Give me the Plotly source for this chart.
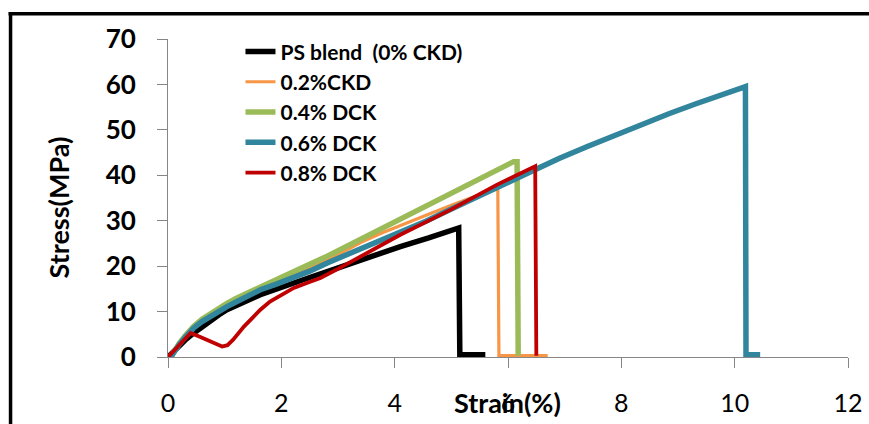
import plotly.graph_objects as go

# ---- data ----
ps_x = [0, 0.1, 0.2, 0.3, 0.455, 0.6, 0.75, 0.9, 1.04, 1.2, 1.35, 1.5, 1.63, 1.8, 2.0, 2.22, 2.5,
        2.81, 3.1, 3.4, 3.75, 4.1, 4.6, 5.13, 5.15, 5.6]
ps_y = [0, 1.3, 2.5, 3.7, 5.3, 6.7, 8.0, 9.3, 10.4, 11.4, 12.2, 13.0, 13.7, 14.5, 15.3, 16.3, 17.5,
        18.8, 20.1, 21.4, 22.9, 24.3, 26.2, 28.4, 0.5, 0.5]

c02_x = [0, 0.1, 0.2, 0.3, 0.455, 0.6, 0.75, 0.9, 1.04, 1.2, 1.35, 1.5, 1.63, 1.9, 2.22, 2.5,
         2.81, 3.1, 3.4, 3.75, 4.1, 4.6, 5.0, 5.4, 5.8, 5.82, 5.84, 6.7]
c02_y = [0, 1.5, 2.9, 4.3, 6.6, 8.0, 9.3, 10.4, 11.4, 12.5, 13.4, 14.3, 15.0, 16.4, 17.9, 19.5,
         21.3, 23.2, 25.2, 27.2, 29.0, 31.4, 33.4, 35.3, 37.0, 37.0, 0.3, 0.3]

c04_x = [0.05, 0.12, 0.2, 0.3, 0.455, 0.6, 0.75, 0.9, 1.04, 1.2, 1.35, 1.5, 1.63, 1.9, 2.22, 2.5,
         2.81, 3.1, 3.4, 3.75, 4.1, 4.55, 5.0, 5.5, 6.1, 6.16, 6.18]
c04_y = [0, 1.6, 3.0, 4.6, 6.8, 8.3, 9.6, 10.8, 11.8, 12.9, 13.8, 14.7, 15.4, 17.0, 18.8, 20.4,
         22.2, 24.0, 25.9, 28.2, 30.5, 33.2, 35.9, 39.2, 43.0, 43.0, 0.3]

c06_x = [0.05, 0.12, 0.2, 0.3, 0.455, 0.6, 0.75, 0.9, 1.04, 1.2, 1.35, 1.5, 1.63, 1.9, 2.22, 2.5,
         2.81, 3.1, 3.4, 3.75, 4.1, 4.55, 5.0, 5.7, 6.45, 6.9, 7.39, 7.9, 8.39, 8.85, 9.33, 9.8,
         10.19, 10.2, 10.45]
c06_y = [0, 1.5, 2.8, 4.3, 6.4, 7.8, 9.0, 10.1, 11.1, 12.1, 13.0, 13.9, 14.8, 16.0, 17.4, 18.9,
         20.7, 22.2, 23.8, 25.5, 27.3, 29.9, 32.6, 36.8, 41.2, 43.7, 46.3, 48.9, 51.4, 53.6, 55.8, 57.8,
         59.5, 0.5, 0.5]

c08_x = [0, 0.2, 0.4, 0.55, 0.7, 0.85, 0.955, 1.05, 1.15, 1.34, 1.5, 1.63, 1.8, 2.0, 2.22, 2.45,
         2.69, 3.0, 3.4, 3.75, 4.1, 4.55, 5.0, 5.8, 6.45, 6.48, 6.5]
c08_y = [0, 2.8, 5.3, 4.5, 3.6, 2.7, 2.3, 2.6, 3.8, 6.7, 8.9, 10.4, 12.2, 13.6, 15.2, 16.3,
         17.4, 19.4, 22.1, 24.5, 26.9, 29.7, 32.5, 37.9, 42.0, 42.0, 0.3]

names = ["PS blend  (0% CKD)", "0.2%CKD", "0.4% DCK", "0.6% DCK", "0.8% DCK"]
colors = ["#000000", "#F79646", "#9BBB59", "#31859C", "#C00000"]
widths = [5.5, 3.2, 5.5, 5.5, 3.8]

x_ticks = [0, 2, 4, 6, 8, 10, 12]
y_ticks = [0, 10, 20, 30, 40, 50, 60, 70]

FONT = "Lato"

fig = go.Figure()
for xs, ys, nm, col, w in zip([ps_x, c02_x, c04_x, c06_x, c08_x],
                              [ps_y, c02_y, c04_y, c06_y, c08_y],
                              names, colors, widths):
    fig.add_trace(go.Scatter(x=xs, y=ys, mode="lines", name=nm,
                             line=dict(color=col, width=w, shape="linear"),
                             cliponaxis=False))

# pixel helpers for paper coordinates
L, R, T, B = 167.5, 847.7, 38.7, 357.3
def px(x):
    return (x - L) / (R - L)
def py(y):
    return (B - y) / (B - T)

fig.update_layout(
    width=869, height=424,
    margin=dict(l=L, r=869 - R, t=T, b=424 - B, autoexpand=False),
    paper_bgcolor="white", plot_bgcolor="white",
    font=dict(family=FONT, color="#000000"),
    showlegend=True,
    legend=dict(x=px(240), y=py(31), xanchor="left", yanchor="top",
                bgcolor="rgba(0,0,0,0)",
                font=dict(family=FONT, size=21, weight=700, color="#000000")),
    xaxis=dict(range=[0, 12], tickvals=x_ticks, ticktext=[str(v) for v in x_ticks],
               showgrid=False, zeroline=False, showline=True, linecolor="#868686", linewidth=1,
               ticks="outside", ticklen=10, tickcolor="#868686", tickwidth=1,
               ticklabelstandoff=14,
               tickfont=dict(family=FONT, size=25, color="#000000")),
    yaxis=dict(range=[0, 70], tickvals=y_ticks, ticktext=[str(v) for v in y_ticks],
               showgrid=False, zeroline=False, showline=True, linecolor="#868686", linewidth=1,
               ticks="outside", ticklen=10, tickcolor="#868686", tickwidth=1,
               ticklabelstandoff=16,
               tickfont=dict(family=FONT, size=26, weight=700, color="#000000")),
    annotations=[
        dict(text="Stress(MPa)", xref="paper", yref="paper", x=px(58), y=py(208),
             showarrow=False, textangle=-90, xanchor="center", yanchor="middle",
             font=dict(family=FONT, size=27, weight=700, color="#000000")),
        dict(text="Strain(%)", xref="paper", yref="paper", x=px(507), y=py(403),
             showarrow=False, xanchor="center", yanchor="middle",
             font=dict(family=FONT, size=27, weight=700, color="#000000")),
    ],
    shapes=[
        dict(type="line", xref="paper", yref="paper", x0=px(8), x1=px(875), y0=py(13.3), y1=py(13.3),
             line=dict(color="black", width=3.5)),
        dict(type="line", xref="paper", yref="paper", x0=px(10), x1=px(10), y0=py(11.6), y1=py(430),
             line=dict(color="black", width=3.5)),
    ],
)

fig.write_html("out.html")
